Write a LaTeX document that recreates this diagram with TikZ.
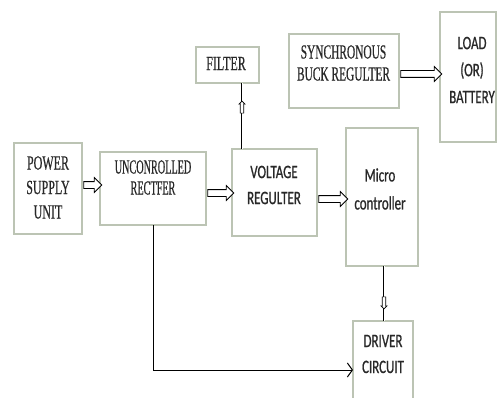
\documentclass[tikz,border=0pt]{standalone}
\usepackage{fontspec}
\usetikzlibrary{shapes.arrows,arrows.meta}
\newfontfamily\serifc[FakeStretch=0.6,FakeBold=0.5]{Liberation Serif}
\newfontfamily\sansc[FakeStretch=0.68,FakeBold=0.8]{Carlito}
\definecolor{boxline}{RGB}{188,196,180}
\definecolor{ink}{RGB}{40,40,40}
\tikzset{
  box/.style={draw=boxline, line width=1.1pt, rectangle, inner sep=0pt, outer sep=0pt},
  sertext/.style={text=ink, align=center, inner sep=0pt, font={\serifc\fontsize{20}{#1}\selectfont}},
  santext/.style={text=ink, align=center, inner sep=0pt, font={\sansc\fontsize{19}{#1}\selectfont}},
  harrow/.style={single arrow, draw=black, line width=0.8pt, fill=white, inner sep=3pt,
     single arrow head extend=4pt, single arrow head indent=0pt, minimum height=#1, anchor=center},
  varrow/.style={single arrow, draw=black, line width=0.7pt, fill=white, inner sep=1.4pt,
     single arrow head extend=1.2pt, single arrow head indent=0pt, minimum height=12pt, anchor=center},
  dline/.style={draw=black, line width=2.4pt},
  dinner/.style={draw=white, line width=0.9pt},
  conn/.style={draw=black, line width=1pt}
}
\begin{document}
\begin{tikzpicture}[x=1pt,y=-1pt]
\useasboundingbox (0,0) rectangle (497,398);
\clip (0,0) rectangle (497,398);
% boxes
\node[box, minimum width=68, minimum height=91] (psu) at (48,188.5) {};
\node[box, minimum width=106, minimum height=73] (rect) at (153,188.5) {};
\node[box, minimum width=85, minimum height=87] (vr) at (274.5,192.5) {};
\node[box, minimum width=63, minimum height=36] (filter) at (227.5,65) {};
\node[box, minimum width=110, minimum height=74] (sync) at (344,71) {};
\node[box, minimum width=56, minimum height=130] (load) at (468,77) {};
\node[box, minimum width=72, minimum height=138] (mc) at (382,197) {};
\node[box, minimum width=60, minimum height=82] (driver) at (383,362) {};
% texts
\node[sertext=24.5] (psut) at (48,187.5) {POWER\\SUPPLY\\UNIT};
\node[sertext=21, xscale=0.85, transform shape] (rectt) at (153,177.5) {UNCONROLLED\\RECTFER};
\node[sertext=21] (filtert) at (226,63.5) {FILTER};
\node[sertext=22, xscale=0.95, transform shape] (synct) at (343.5,63) {SYNCHRONOUS\\BUCK REGULTER};
\node[santext=26] (vrt) at (274,185) {VOLTAGE\\REGULTER};
\node[santext=28] (mct) at (380,189) {Micro\\controller};
\node[santext=27] (loadt) at (472,70) {LOAD\\(OR)\\BATTERY};
\node[santext=26] (drivert) at (383,354) {DRIVER\\CIRCUIT};
% hollow block arrows
\path (psu.east |- 0,185) -- (rect.west |- 0,185) node[midway, harrow=18] (a1) {};
\path (rect.east |- 0,193) -- (vr.west |- 0,193) node[midway, harrow=26] (a2) {};
\path (vr.east |- 0,199) -- (mc.west |- 0,199) node[midway, harrow=29] (a3) {};
\path (sync.east |- 0,74) -- (load.west |- 0,74) node[midway, harrow=41] (a4) {};
% vertical double connectors
\coordinate (f1) at ([xshift=-32.5pt]vr.north);
\coordinate (f2) at ([xshift=14.5pt]filter.south);
\draw[dline] (f1) -- (f2);
\draw[dinner] (f1) -- (f2);
\node[varrow, rotate=90] (a5) at (242,108) {};
\coordinate (d1) at ([xshift=2pt]mc.south);
\coordinate (d2) at ([xshift=1pt]driver.north);
\draw[dline] (d1) -- (d2);
\draw[dinner] (d1) -- (d2);
\node[varrow, rotate=-90] (a6) at (384,302) {};
% rectifier to driver
\draw[conn, -{Straight Barb[length=5pt,width=14pt]}] (rect.south) |- (driver.west |- 0,370);
\end{tikzpicture}
\end{document}
